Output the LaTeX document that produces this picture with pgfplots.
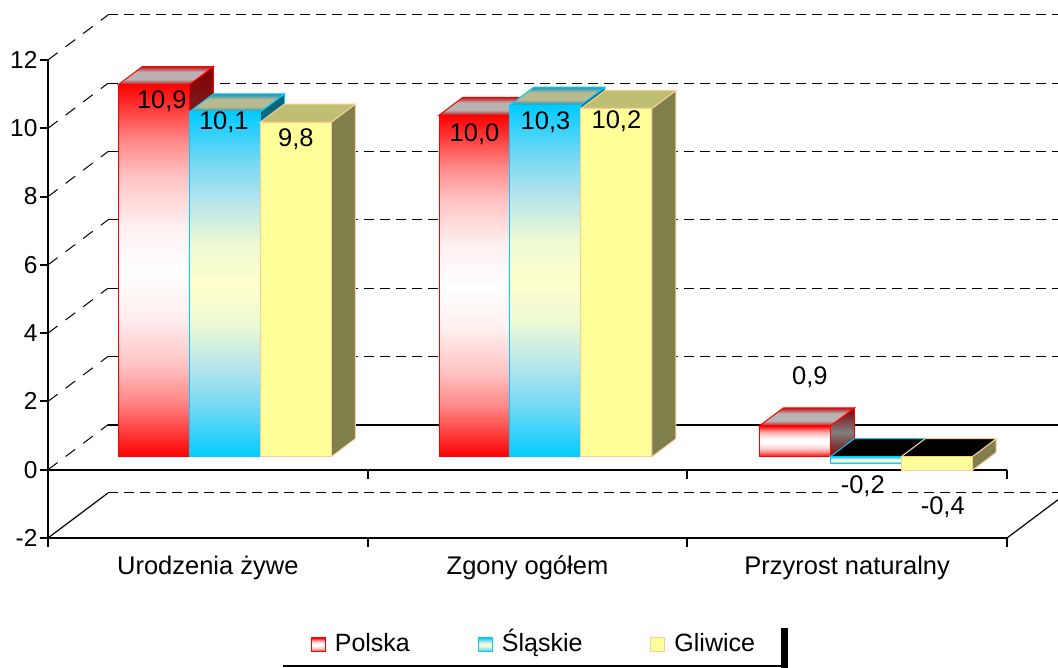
\documentclass[border=0pt]{standalone}
\usepackage{pgfplots}
\pgfplotsset{compat=1.18}
\usepackage{fontspec}
\setmainfont{Liberation Sans}
\newcommand{\chartfont}{\fontsize{25.5}{28}\selectfont}
\newcommand{\tickfont}{\fontsize{24.5}{28}\selectfont}
\newcommand{\legfont}{\fontsize{25}{28}\selectfont}
\definecolor{polred}{HTML}{FF0000}
\definecolor{pola}{HTML}{FF8888}
\definecolor{polb}{HTML}{FFC4C4}
\definecolor{polc}{HTML}{FFF0F0}
\definecolor{slablue}{HTML}{00CCFF}
\definecolor{slamid}{HTML}{FFFFCC}
\definecolor{slaz}{HTML}{70D8F4}
\definecolor{slaa}{HTML}{B0E4EC}
\definecolor{slab}{HTML}{ECF8D4}
\definecolor{gliy}{HTML}{FFFF99}
\definecolor{glib}{HTML}{FFCC99}
\definecolor{ptopa}{HTML}{C01818}
\definecolor{ptopb}{HTML}{BAB2B2}
\definecolor{psidea}{HTML}{7F0000}
\definecolor{psideb}{HTML}{7F7F7F}
\definecolor{stopa}{HTML}{1098C0}
\definecolor{stopb}{HTML}{BABA90}
\definecolor{ssidea}{HTML}{00667F}
\definecolor{ssideb}{HTML}{7F7F66}
\definecolor{gtop}{HTML}{BFBF73}
\definecolor{gside}{HTML}{7F7F4C}
\pgfdeclareverticalshading{pfrontsh}{100bp}{color(0bp)=(polred); color(25bp)=(polred); color(32.5bp)=(pola); color(37.5bp)=(polb); color(44bp)=(polc); color(50bp)=(white); color(56bp)=(polc); color(62.5bp)=(polb); color(67.5bp)=(pola); color(75bp)=(polred); color(100bp)=(polred)}
\pgfdeclareverticalshading{sfrontsh}{100bp}{color(0bp)=(slablue); color(25bp)=(slablue); color(32bp)=(slaz); color(37.5bp)=(slaa); color(44bp)=(slab); color(50bp)=(slamid); color(56bp)=(slab); color(62.5bp)=(slaa); color(68bp)=(slaz); color(75bp)=(slablue); color(100bp)=(slablue)}
\pgfdeclareverticalshading{ptopsh}{100bp}{color(0bp)=(ptopa); color(25bp)=(ptopa); color(40bp)=(ptopb); color(60bp)=(ptopb); color(75bp)=(ptopa); color(100bp)=(ptopa)}
\pgfdeclareverticalshading{psidesh}{100bp}{color(0bp)=(psidea); color(25bp)=(psidea); color(50bp)=(psideb); color(75bp)=(psidea); color(100bp)=(psidea)}
\pgfdeclareverticalshading{stopsh}{100bp}{color(0bp)=(stopa); color(25bp)=(stopa); color(40bp)=(stopb); color(60bp)=(stopb); color(75bp)=(stopa); color(100bp)=(stopa)}
\pgfdeclareverticalshading{ssidesh}{100bp}{color(0bp)=(ssidea); color(25bp)=(ssidea); color(50bp)=(ssideb); color(75bp)=(ssidea); color(100bp)=(ssidea)}
\tikzset{
 Pfront/.style={draw=polred,line width=1pt,shade,shading=pfrontsh},
 Ptop/.style={draw=polred,line width=1pt,shade,shading=ptopsh},
 Pside/.style={draw=polred,line width=1pt,shade,shading=psidesh},
 Sfront/.style={draw=slablue,line width=1pt,shade,shading=sfrontsh},
 SfrontL/.style={Sfront,/pgfplots/every node near coord/.append style={fill=white}},
 Stop/.style={draw=slablue,line width=1pt,shade,shading=stopsh},
 Sside/.style={draw=slablue,line width=1pt,shade,shading=ssidesh},
 Gfront/.style={draw=glib,line width=1pt,fill=gliy},
 Gtop/.style={draw=glib,line width=1pt,fill=gtop},
 Gside/.style={draw=glib,line width=1pt,fill=gside},
 Stopblack/.style={draw=slablue,line width=1pt,fill=black},
 Gtopblack/.style={draw=glib,line width=1pt,fill=black},
}
\newcommand{\threedbar}[9]{%
 \pgfmathsetmacro\xl{#1+#2-0.111}%
 \pgfmathsetmacro\xr{#1+#2+0.111}%
 \pgfmathsetmacro\xlb{\xl+0.0751}%
 \pgfmathsetmacro\xrb{\xr+0.0751}%
 \pgfmathsetmacro\yt{max(#3,0)}%
 \pgfmathsetmacro\yb{min(#3,0)}%
 \pgfmathsetmacro\ytb{\yt+0.527}%
 \pgfmathsetmacro\ybb{\yb+0.527}%
 \addplot[forget plot,#6] coordinates {(\xr,\yb) (\xrb,\ybb) (\xrb,\ytb) (\xr,\yt)} -- cycle;
 \addplot[forget plot,#5] coordinates {(\xl,\yt) (\xlb,\ytb) (\xrb,\ytb) (\xr,\yt)} -- cycle;
 \addplot[forget plot,ybar,bar width=0.222,bar shift=#2,
   nodes near coords={#7},
   every node near coord/.append style={font=\chartfont,text=black,anchor=center,
     draw=none,inner sep=1pt,xshift=#8pt+#2*319.67pt,yshift=#9pt},#4]
   coordinates {(#1,#3)};
}
\begin{document}
\begin{tikzpicture}
\useasboundingbox (0,0) rectangle (1058pt,668pt);
\clip (0,0) rectangle (1058pt,668pt);
% back wall
\begin{axis}[at={(108pt,175pt)},anchor=south west,scale only axis,width=959pt,height=478pt,
  xmin=0,xmax=3,ymin=-2,ymax=12,axis line style={draw=none},tick style={draw=none},
  ytick={-2,0,2,4,6,8,10,12},xtick=\empty,yticklabels={},ymajorgrids,
  grid style={black,line width=1pt,dash pattern=on 10pt off 6pt}]
\addplot[black,line width=2pt] coordinates {(0,0) (3,0)};
\end{axis}
% front frame and axes
\begin{axis}[at={(48pt,130pt)},anchor=south west,scale only axis,width=959pt,height=478pt,
  xmin=0,xmax=3,ymin=-2,ymax=12,clip=false,
  axis y line*=left,axis x line*=bottom,
  axis line style={black,line width=2pt,-},
  tick align=outside,major tick length=8pt,minor tick length=9pt,
  tick style={black,line width=2pt},
  major x tick style={draw=none},
  ytick={-2,0,2,4,6,8,10,12},
  yticklabels={-2,0,2,4,6,8,10,12},
  xtick={0.5,1.5,2.5},minor xtick={0,1,2,3},
  xticklabels={Urodzenia żywe,Zgony ogółem,Przyrost naturalny},
  xticklabel style={font=\chartfont,text=black,yshift=-6pt},
  yticklabel style={font=\tickfont,text=black,xshift=1pt}]
\pgfplotsinvokeforeach{0,2,4,6,8,10,12}{
  \addplot[black,line width=1pt,dash pattern=on 12pt off 10pt] coordinates {(0,#1) (0.1877,#1+1.318)};
}
\addplot[black,line width=1.2pt] coordinates {(0,-2) (0.1877,-0.682)};
\addplot[black,line width=1.2pt] coordinates {(3,-2) (3.1877,-0.682)};
\addplot[black,line width=2pt] coordinates {(0,0) (3,0)};
\pgfplotsinvokeforeach{1,2,3}{
  \addplot[black,line width=2pt] coordinates {(#1,0) (#1,-0.27)};
}
\end{axis}
% bars
\begin{axis}[at={(65pt,143pt)},anchor=south west,scale only axis,width=959pt,height=478pt,
  xmin=0,xmax=3,ymin=-2,ymax=12,clip=false,hide axis,
  legend columns=3,
  legend style={at={(0.489,-0.251)},anchor=center,draw=none,fill=none,font=\legfont,
    nodes={text height=19pt,text depth=6pt},
    /tikz/every even column/.append style={column sep=66pt},
    /tikz/every odd column/.append style={column sep=7pt}}]
\threedbar{0.5}{-0.222}{10.9}{Pfront}{Ptop}{Pside}{10,9}{8}{-17}
\threedbar{1.503}{-0.222}{10.0}{Pfront}{Ptop}{Pside}{10,0}{0}{-19}
\threedbar{2.505}{-0.222}{0.9}{Pfront}{Ptop}{Pside}{0,9}{15}{49}
\threedbar{0.5}{0}{10.1}{Sfront}{Stop}{Sside}{10,1}{-1}{-10}
\threedbar{1.503}{0}{10.3}{Sfront}{Stop}{Sside}{10,3}{0}{-17}
\threedbar{2.505}{0}{-0.2}{SfrontL}{Stopblack}{Stopblack}{-0,2}{-3}{-23}
\threedbar{0.5}{0.222}{9.8}{Gfront}{Gtop}{Gside}{9,8}{0}{-17}
\threedbar{1.503}{0.222}{10.2}{Gfront}{Gtop}{Gside}{10,2}{0}{-13}
\threedbar{2.505}{0.222}{-0.4}{Gfront}{Gtopblack}{Gside}{-0,4}{6}{-37}
\addlegendimage{legend image code/.code={\draw[Pfront] (0,-7pt) rectangle (14pt,7pt);}}
\addlegendentry{Polska}
\addlegendimage{legend image code/.code={\draw[Sfront] (0,-7pt) rectangle (14pt,7pt);}}
\addlegendentry{Śląskie}
\addlegendimage{legend image code/.code={\draw[Gfront] (0,-7pt) rectangle (14pt,7pt);}}
\addlegendentry{Gliwice}
\end{axis}
\draw[black,line width=2.5pt] (283pt,2pt) -- (788pt,2pt);
\fill[black] (781pt,0pt) rectangle (788pt,40pt);
\end{tikzpicture}
\end{document}
